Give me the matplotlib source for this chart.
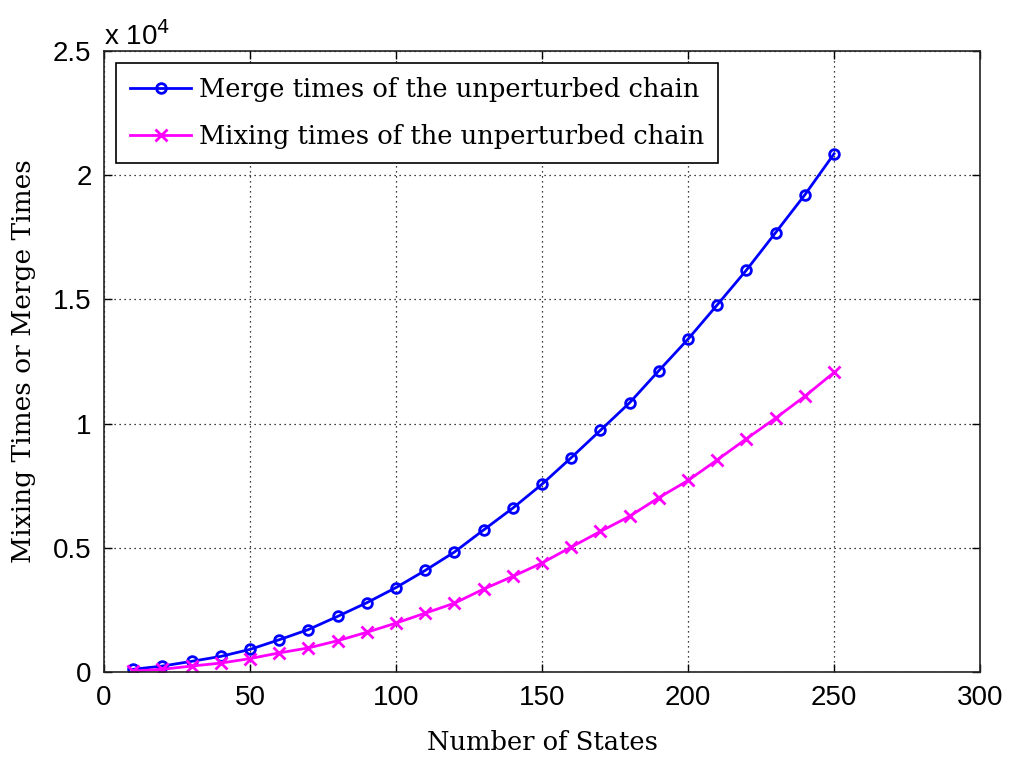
import numpy as np
import matplotlib.pyplot as plt

states = [10, 20, 30, 40, 50, 60, 70, 80, 90, 100, 110, 120, 130,
          140, 150, 160, 170, 180, 190, 200, 210, 220, 230, 240, 250]
merge_times = [0.011, 0.024, 0.043, 0.063, 0.091, 0.130, 0.171, 0.224, 0.279,
               0.340, 0.409, 0.483, 0.572, 0.660, 0.756, 0.863, 0.973, 1.084,
               1.213, 1.340, 1.478, 1.618, 1.769, 1.921, 2.086]
mixing_times = [0.004, 0.011, 0.024, 0.036, 0.054, 0.077, 0.097, 0.126, 0.160,
                0.197, 0.237, 0.277, 0.334, 0.385, 0.439, 0.503, 0.566, 0.627,
                0.702, 0.771, 0.854, 0.939, 1.022, 1.110, 1.206]
scale = 1e4

serif = ['DejaVu Serif']
sans = ['Liberation Sans', 'DejaVu Sans']

fig = plt.figure(figsize=(10.12, 7.59), dpi=100)
ax = fig.add_axes([0.1028, 0.1146, 0.8656, 0.8182])

ax.plot(states, np.array(merge_times) * scale, color='#0000ff', lw=2,
        marker='o', ms=7, mfc='none', mew=2,
        label='Merge times of the unperturbed chain')
ax.plot(states, np.array(mixing_times) * scale, color='#ff00ff', lw=2,
        marker='x', ms=9, mew=2,
        label='Mixing times of the unperturbed chain')

ax.set_xlim(0, 300)
ax.set_ylim(0, 2.5e4)
ax.set_xticks(np.arange(0, 301, 50))
ax.set_yticks(np.arange(0, 2.51e4, 0.5e4))
ax.set_yticklabels(['0', '0.5', '1', '1.5', '2', '2.5'])
for lab in ax.get_xticklabels() + ax.get_yticklabels():
    lab.set_family(sans)
    lab.set_fontsize(20)
ax.tick_params(direction='in', length=6, width=1, top=True, right=True, pad=9)
ax.grid(True, color='black', linestyle=(0, (1, 3)), linewidth=0.9)
for sp in ax.spines.values():
    sp.set_linewidth(1.2)
    sp.set_color('#222222')

ax.text(0.0, 1.0, r'x 10$^4$', transform=ax.transAxes, fontsize=20,
        family=sans, va='bottom', ha='left')

ax.set_xlabel('Number of States', family=serif, fontsize=18.5, labelpad=14)
ax.set_ylabel('Mixing Times or Merge Times', family=serif, fontsize=19, labelpad=12)

leg = ax.legend(loc='upper left', prop={'family': serif, 'size': 18.5},
                fancybox=False, edgecolor='black', framealpha=1,
                borderaxespad=0.45, borderpad=0.55, handlelength=2.4,
                handletextpad=0.3, labelspacing=0.85)
leg.get_frame().set_linewidth(1.2)

fig.savefig('out.png', dpi=100)
